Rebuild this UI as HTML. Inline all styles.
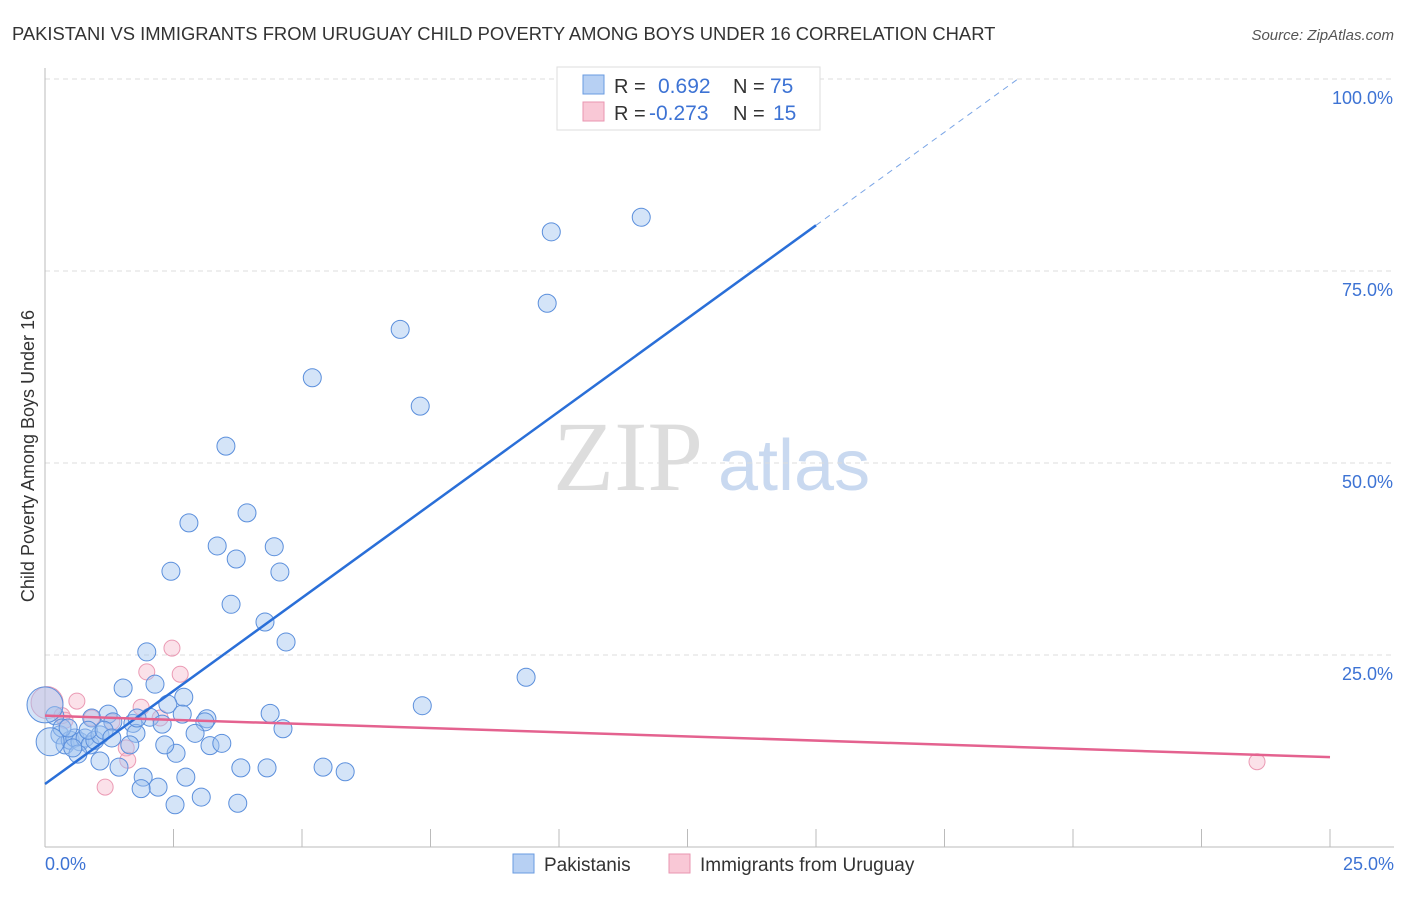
<!DOCTYPE html>
<html><head><meta charset="utf-8"><style>
body{margin:0;background:#fff;font-family:"Liberation Sans",sans-serif}
</style></head><body>
<svg id="chart" width="1406" height="892" xmlns="http://www.w3.org/2000/svg" font-family="Liberation Sans, sans-serif">
<text x="12" y="40" font-size="18.4" fill="#333">PAKISTANI VS IMMIGRANTS FROM URUGUAY CHILD POVERTY AMONG BOYS UNDER 16 CORRELATION CHART</text>
<text x="1394" y="40" font-size="15" fill="#555" font-style="italic" text-anchor="end">Source: ZipAtlas.com</text>
<text x="553" y="490" font-size="100" fill="#ddd" style="font-family:'Liberation Serif',serif">ZIP</text>
<text x="718" y="490" font-size="72" fill="#c9d9f0">atlas</text>
<g id="grid"></g>
<g id="marks"></g>
<text transform="translate(34,456) rotate(-90)" font-size="18" fill="#333" text-anchor="middle">Child Poverty Among Boys Under 16</text>
<g>
<rect x="557" y="67" width="263" height="63" fill="#fff" stroke="#ddd"/>
<rect x="583" y="75" width="21" height="19" fill="#b7d0f3" stroke="#6a9be0"/>
<rect x="583" y="102" width="21" height="19" fill="#f9c8d6" stroke="#e996b0"/>
<text x="614" y="93" font-size="20" fill="#333">R =</text>
<text x="658" y="93" font-size="21" fill="#3d73d4">0.692</text>
<text x="733" y="93" font-size="20" fill="#333">N =</text>
<text x="770" y="93" font-size="21" fill="#3d73d4">75</text>
<text x="614" y="120" font-size="20" fill="#333">R =</text>
<text x="649" y="120" font-size="21" fill="#3d73d4">-0.273</text>
<text x="733" y="120" font-size="20" fill="#333">N =</text>
<text x="773" y="120" font-size="21" fill="#3d73d4">15</text>
</g>
<g>
<rect x="513" y="854" width="21" height="19" fill="#b7d0f3" stroke="#6a9be0"/>
<text x="544" y="871" font-size="19" fill="#333">Pakistanis</text>
<rect x="669" y="854" width="21" height="19" fill="#f9c8d6" stroke="#e996b0"/>
<text x="700" y="871" font-size="19" fill="#333">Immigrants from Uruguay</text>
</g>
<text x="45" y="870" font-size="18" fill="#3d73d4">0.0%</text>
<text x="1394" y="870" font-size="18" fill="#3d73d4" text-anchor="end">25.0%</text>
</svg>
<script>
const yTicks=[25,50,75,100];
const yTickLabels=["25.0%","50.0%","75.0%","100.0%"];
const xTicks=[0,2.5,5,7.5,10,12.5,15,17.5,20,22.5,25];
const pakX=[11.60,9.85,9.77,6.91,5.20,7.30,3.52,3.93,2.80,3.35,4.46,3.72,2.45,4.57,3.62,4.28,4.69,1.98,9.36,2.14,1.52,2.70,7.34,2.39,4.38,2.67,3.15,0.91,1.23,2.04,2.28,1.32,1.71,4.63,1.77,3.11,2.92,1.65,3.21,3.44,2.55,1.07,1.44,1.91,2.74,3.81,4.32,5.41,5.84,2.20,1.87,3.04,2.53,3.75,0.19,0.29,0.39,0.49,0.58,0.68,0.78,0.88,0.97,1.07,0.64,0.33,0.84,0.0,0.1,1.15,1.30,1.79,2.33,0.54,0.45];
const pakY=[82.0,80.1,70.8,67.4,61.1,57.4,52.2,43.5,42.2,39.2,39.1,37.5,35.9,35.8,31.6,29.3,26.7,25.4,22.1,21.2,20.7,19.5,18.4,18.6,17.4,17.3,16.7,16.8,17.3,16.9,16.0,16.3,16.1,15.4,14.8,16.3,14.8,13.3,13.2,13.5,12.2,11.2,10.4,9.1,9.1,10.3,10.3,10.4,9.8,7.8,7.6,6.5,5.5,5.7,17.1,14.6,13.3,13.9,14.2,13.7,14.2,13.3,13.9,14.6,12.1,15.5,15.2,18.5,13.7,15.2,14.2,16.8,13.3,12.9,15.5];
const pakR=[9,9,9,9,9,9,9,9,9,9,9,9,9,9,9,9,9,9,9,9,9,9,9,9,9,9,9,9,9,9,9,9,9,9,9,9,9,9,9,9,9,9,9,9,9,9,9,9,9,9,9,9,9,9,9,9,9,9,9,9,9,9,9,9,9,9,9,18,14,9,9,9,9,9,9];
const uruX=[0.04,0.62,0.33,0.39,0.91,1.30,1.58,1.61,1.17,1.98,2.47,2.63,1.87,2.24,23.58];
const uruY=[18.8,19.0,17.1,16.5,16.8,16.3,12.9,11.3,7.8,22.8,25.9,22.5,18.2,16.8,11.1];
const pakLine=[8.2,4.85];
const uruLine=[17.1,-0.216];
const X=v=>45+v*1285/25, Y=v=>847-v*7.68;
const NS="http://www.w3.org/2000/svg";
function mk(p,t,a){const e=document.createElementNS(NS,t);for(const k in a)e.setAttribute(k,a[k]);p.appendChild(e);return e;}
const gridG=document.getElementById('grid'), marksG=document.getElementById('marks');
const topLine=mk(gridG,'line',{x1:45,x2:1394,y1:Y(100),y2:Y(100),stroke:'#ddd','stroke-dasharray':'5,4'});


yTicks.forEach((t,i)=>{
 const l=mk(gridG,'line',{x1:45,x2:1394,y1:Y(t),y2:Y(t),stroke:'#ddd','stroke-dasharray':'5,4'});
 
 
 const tx=mk(gridG,'text',{x:1393,y:Y(t)+25,'font-size':18,fill:'#3d73d4','text-anchor':'end'});
 tx.textContent=yTickLabels[i];
 
 
});
const ax=mk(gridG,'line',{x1:45,x2:45,y1:68,y2:847,stroke:'#bbb'});


const bx=mk(gridG,'line',{x1:45,x2:1394,y1:847,y2:847,stroke:'#bbb'});


xTicks.forEach(t=>{
 const l=mk(gridG,'line',{x1:X(t),x2:X(t),y1:829,y2:847,stroke:'#bbb'});
 
 
});
uruX.forEach((x,i)=>{
 const c=mk(marksG,'circle',{cx:X(x),cy:Y(uruY[i]),r:i==0?16:8,fill:'rgba(246,180,200,0.4)',stroke:'#eb9ab4','stroke-width':1});
 
 
});
pakX.forEach((x,i)=>{
 const c=mk(marksG,'circle',{cx:X(x),cy:Y(pakY[i]),r:pakR[i],fill:'rgba(160,195,240,0.45)',stroke:'#5b8fdc','stroke-width':1});
 
 
});
const pl=mk(marksG,'line',{x1:X(0),y1:Y(pakLine[0]),x2:X(15),y2:Y(pakLine[0]+pakLine[1]*15),stroke:'#2a6fd8','stroke-width':2.5});


const xe=(100-pakLine[0])/pakLine[1];
const pd=mk(marksG,'line',{x1:X(15),y1:Y(pakLine[0]+pakLine[1]*15),x2:X(xe),y2:Y(100),stroke:'#7aa5e6','stroke-width':1,'stroke-dasharray':'6,5'});


const ul=mk(marksG,'line',{x1:X(0),y1:Y(uruLine[0]),x2:X(25),y2:Y(uruLine[0]+uruLine[1]*25),stroke:'#e4628f','stroke-width':2.5});


</script>
</body></html>
